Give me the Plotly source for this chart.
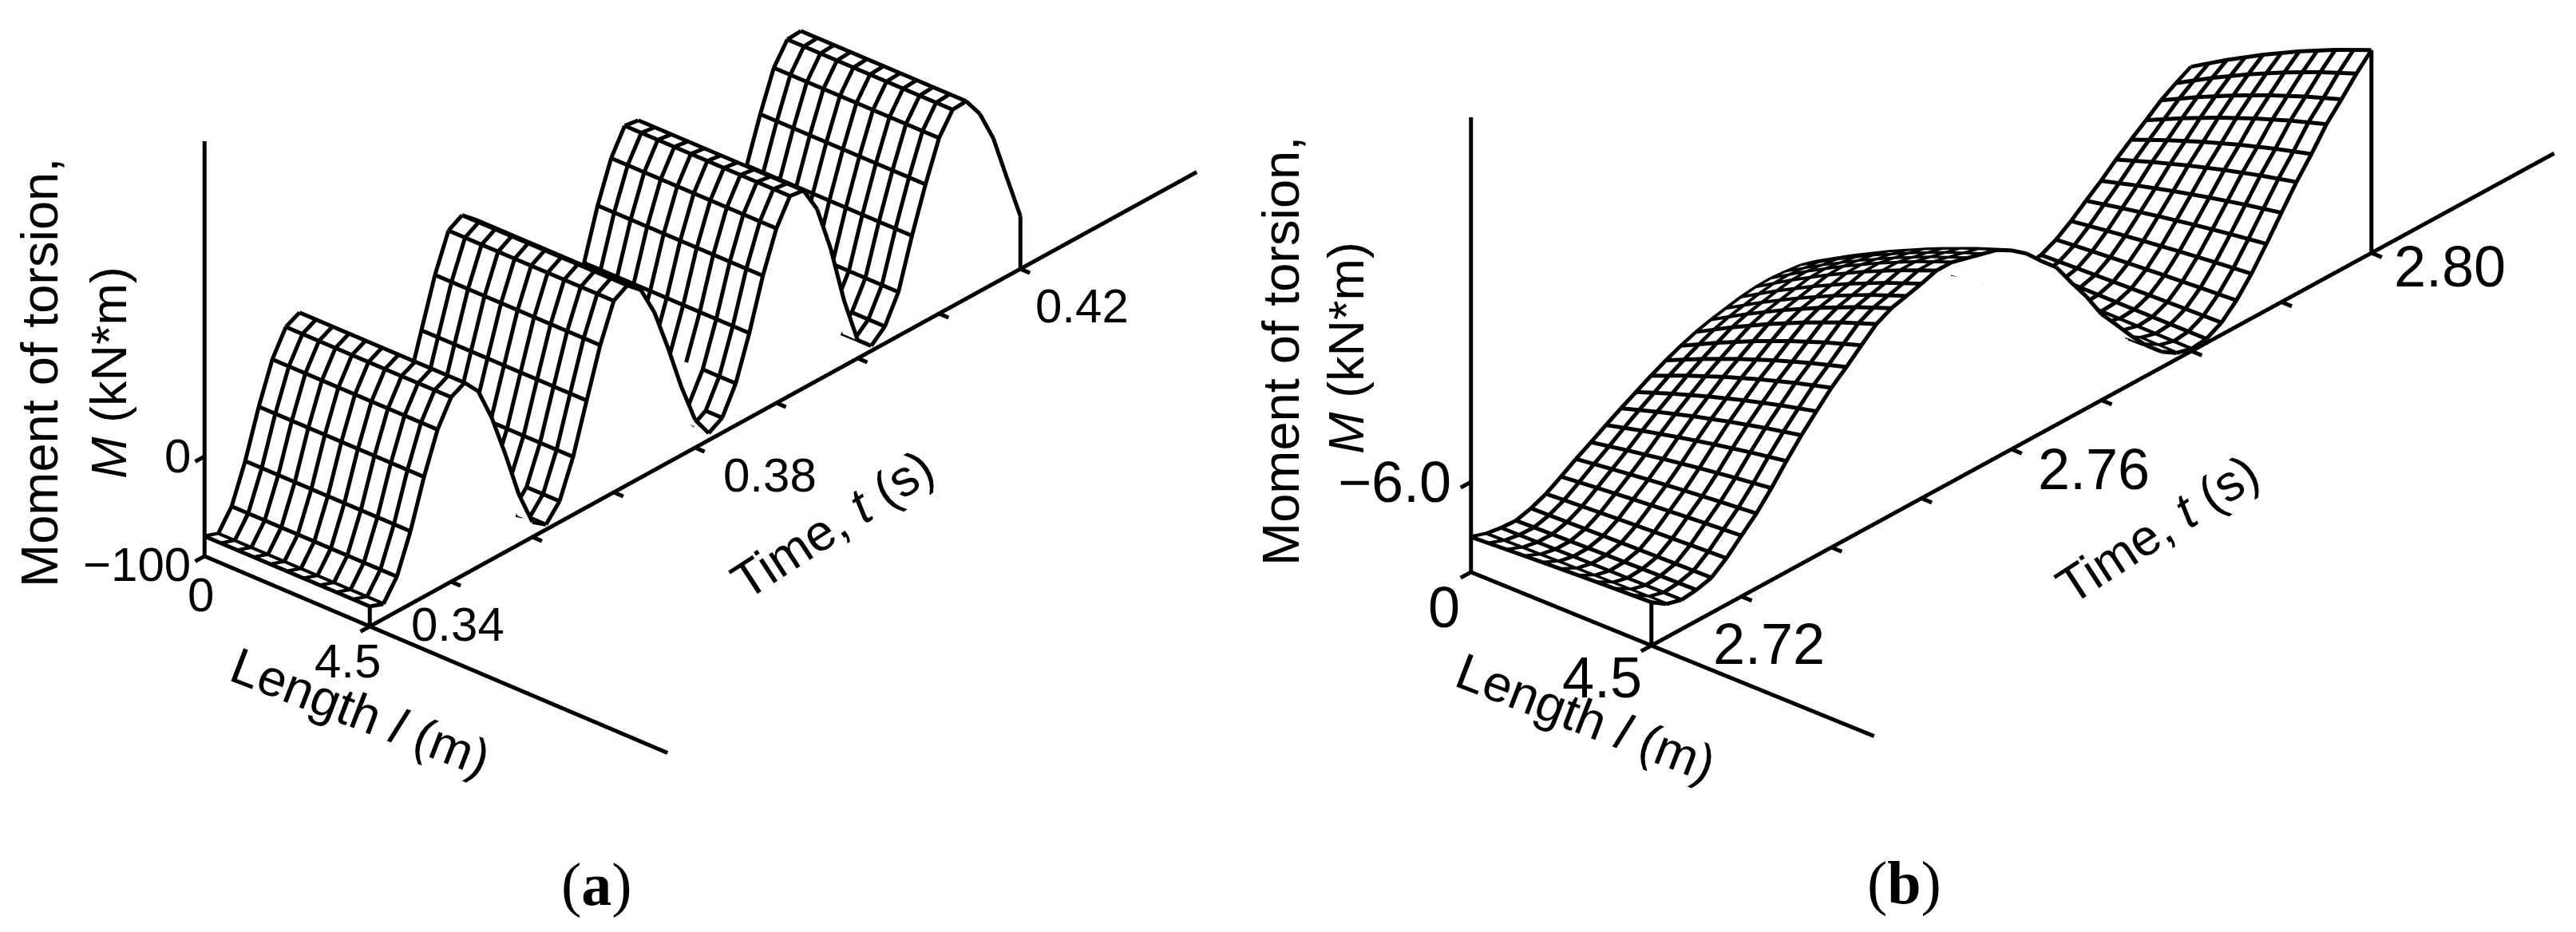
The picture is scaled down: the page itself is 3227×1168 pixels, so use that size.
import math
import numpy as np
import plotly.graph_objects as go

W, H = 3227, 1168

# ---------- data ----------
length_a = [0, 0.45, 0.9, 1.35, 1.8, 2.25, 2.7, 3.15, 3.6, 4.05, 4.5]
time_a = [0.34 + i / 600 for i in range(49)]
moment_a = [-80, -85, -65, -27, 20, 60, 85, 92, 76, 42, -2, -50, -85, -95, -79, -42, 7, 55, 92, 100,
            88, 58, 15, -32, -72, -93, -85, -58, -15, 35, 75, 100, 98, 72, 25, -35, -82, -95, -83, -56,
            -7, 37, 76, 97, 98, 78, 46, -1, -47]

length_b = [0, 0.45, 0.9, 1.35, 1.8, 2.25, 2.7, 3.15, 3.6, 4.05, 4.5]
time_b = [2.72 + i / 600 for i in range(49)]
moment_b_l0 = [-7.22, -7.33, -7.38, -7.40, -7.31, -7.17, -6.97, -6.76, -6.57, -6.37, -6.18, -6.00, -5.82,
               -5.66, -5.52, -5.40, -5.31, -5.24, -5.17, -5.13, -5.12, -5.15, -5.19, -5.29, -5.42, -5.54,
               -5.73, -5.96, -6.19, -6.44, -6.69, -6.94, -7.19, -7.42, -7.63, -7.81, -7.91, -7.91, -7.86,
               -7.70, -7.47, -7.20, -6.94, -6.65, -6.39, -6.14, -5.88, -5.68, -5.50]
moment_b_l45 = [-7.04, -7.26, -7.35, -7.31, -7.22, -6.97, -6.65, -6.34, -5.96, -5.54, -5.15, -4.80, -4.46,
                -4.18, -3.88, -3.59, -3.42, -3.33, -3.24, -3.13, -3.13, -3.22, -3.31, -3.40, -3.59, -3.84,
                -4.19, -4.51, -5.03, -5.52, -6.09, -6.51, -6.94, -7.33, -7.65, -7.86, -7.95, -7.91, -7.73,
                -7.42, -7.01, -6.53, -6.02, -5.52, -5.08, -4.60, -4.23, -3.84, -3.50]
share_b = [0, 0.12, 0.24, 0.35, 0.46, 0.56, 0.66, 0.75, 0.84, 0.92, 1]

time_ticks_a = [0.34, 0.35, 0.36, 0.37, 0.38, 0.39, 0.40, 0.41, 0.42]
time_ticks_b = [2.72, 2.73, 2.74, 2.75, 2.76, 2.77, 2.78, 2.79, 2.80]

moment_grid_a = [moment_a for _ in length_a]
moment_grid_b = [[p + w * (q - p) for p, q in zip(moment_b_l0, moment_b_l45)] for w in share_b]

K = 1752.0   # px per box unit at unit eye distance
DIST = 3.0
LINE = 10


def panel(name, domain, t, l, z, t_ticks, z_ticks, origin, corner, tip, z_px, z_base, z_top, l_tip):
    t0, t1 = t[0], t[-1]
    vt = (tip[0] - corner[0], corner[1] - tip[1])          # screen vector for the whole time span
    vl = (origin[0] - corner[0], corner[1] - origin[1])    # screen vector from l=4.5 to l=0
    s = math.sqrt((vt[1] / vt[0]) * (vl[1] / -vl[0]))
    theta = math.asin(s)
    phi_mag = math.atan((vl[1] / -vl[0]) / s)
    sp, cp = math.sin(phi_mag), math.cos(phi_mag)
    A, B = vt[0] / sp, -vl[0] / cp
    Zp = z_px / math.cos(theta)
    P = K / DIST

    pad_t = (t1 - t0) * 0.032
    t_lo = t0 - pad_t
    t_tip = t0 + (l_tip[0] - corner[0]) / vt[0] * (t1 - t0)
    l_end = 4.5 + (l_tip[1] - corner[0]) / (-vl[0]) * 4.5
    z_lo = z_base - 6 / z_px
    y_lo = -0.05

    ax = A * (t_tip - t_lo) / (t1 - t0) / P
    ay = B * (l_end - y_lo) / 4.5 / P
    az = Zp * (z_top - z_lo) / P

    right = np.array([sp, -cp, 0.0])
    up = np.array([s * cp, s * sp, math.cos(theta)])
    e = np.array([-math.cos(theta) * cp, -math.cos(theta) * sp, s])

    tm, lm, zm = (t_lo + t_tip) / 2, (y_lo + l_end) / 2, (z_lo + z_top) / 2
    ox = origin[0] + (tm - t0) / (t1 - t0) * vt[0] - lm / 4.5 * vl[0]
    oy = origin[1] - (tm - t0) / (t1 - t0) * vt[1] + lm / 4.5 * vl[1] - (zm - z_base) * z_px
    cx = (domain[0] + domain[1]) / 2 * W
    cy = H / 2
    c = (right * (cx - ox) + up * (oy - cy)) / P
    eye = c + DIST * e

    # Small shift toward the viewer so the mesh lines sit on the white surface
    eps = 5.0 / P
    sx = ax / (t_tip - t_lo)
    sy = ay / (l_end - y_lo)
    sz = az / (z_top - z_lo)
    dt = e[0] * eps / sx
    dl = -e[1] * eps / sy
    dz = e[2] * eps / sz

    nt, nl = len(t), len(l)

    def front(j, i):
        """True when the viewer sees the upper side of mesh cell (j, i)."""
        if j < 0 or i < 0 or j >= nl - 1 or i >= nt - 1:
            return False
        dzt = (z[j][i + 1] + z[j + 1][i + 1] - z[j][i] - z[j + 1][i]) / 2 / (t[i + 1] - t[i])
        dzl = (z[j + 1][i] + z[j + 1][i + 1] - z[j][i] - z[j][i + 1]) / 2 / (l[j + 1] - l[j])
        nx = -dzt * sz / sx
        ny = dzl * sz / sy
        return nx * e[0] + ny * e[1] + e[2] > 0

    def clear_of_fold(j, i):
        """Just past a fold, only the near rows clear the white underside."""
        row = min(j, nl - 2)
        if i >= 1 and not front(row, i - 1):
            return j >= nl - 2
        if i >= 2 and not front(row, i - 2):
            return j >= nl - 3
        return True

    gx, gy, gz = [], [], []

    def seg(i1, j1, i2, j2):
        gx.extend([t[i1] + dt, t[i2] + dt, None])
        gy.extend([l[j1] + dl, l[j2] + dl, None])
        gz.extend([z[j1][i1] + dz, z[j2][i2] + dz, None])

    for j in range(nl):
        for i in range(nt - 1):
            if j == nl - 1 or ((front(j - 1, i) or front(j, i)) and clear_of_fold(j, i)):
                seg(i, j, i + 1, j)
    for i in range(nt):
        for j in range(nl - 1):
            if i == 0:
                keep = front(j, i)
            elif i >= 2 and front(j, i - 1) and not front(j, i - 2):
                # first line past a fold: only its near end clears the underside
                keep = j == nl - 2
            elif i >= 3 and front(j, i - 1) and not front(j, i - 3):
                keep = j >= nl - 3
            else:
                keep = front(j, i - 1)
            if keep:
                seg(i, j, i, j + 1)

    ax_x = [t0, t0, None, t0, t0, None, t0, t_tip, None, t0, t0, None, t1, t1]
    ax_y = [0, 0, None, 0, l_end, None, 4.5, 4.5, None, 4.5, 4.5, None, 4.5, 4.5]
    ax_z = [z_base, z_top, None, z_base, z_base, None, z_base, z_base, None,
            z_base, z[-1][0], None, z_base, z[-1][-1]]

    tk = pad_t * 0.45
    tl = 0.26
    for tv in t_ticks:
        ax_x += [None, tv, tv]; ax_y += [None, 4.5, 4.5 + tl]; ax_z += [None, z_base, z_base]
    for zv in z_ticks:
        ax_x += [None, t0, t0 - tk]; ax_y += [None, 0, 0]; ax_z += [None, zv, zv]
    for lv in (0, 4.5):
        ax_x += [None, t0, t0 - tk]; ax_y += [None, lv, lv]; ax_z += [None, z_base, z_base]

    traces = [
        go.Surface(x=t, y=l, z=z, scene=name, showscale=False, hoverinfo="skip",
                   colorscale=[[0, "white"], [1, "white"]],
                   lighting=dict(ambient=1, diffuse=0, specular=0, fresnel=0, roughness=1)),
        go.Scatter3d(x=gx, y=gy, z=gz, mode="lines", scene=name, hoverinfo="skip", showlegend=False,
                     line=dict(color="black", width=LINE)),
        go.Scatter3d(x=ax_x, y=ax_y, z=ax_z, mode="lines", scene=name, hoverinfo="skip", showlegend=False,
                     line=dict(color="black", width=LINE)),
    ]
    hidden = dict(visible=False, showgrid=False, zeroline=False, showspikes=False)
    layout = dict(
        domain=dict(x=list(domain), y=[0, 1]),
        bgcolor="rgba(0,0,0,0)",
        aspectmode="manual",
        aspectratio=dict(x=ax, y=ay, z=az),
        xaxis=dict(range=[t_lo, t_tip], **hidden),
        yaxis=dict(range=[l_end, y_lo], **hidden),
        zaxis=dict(range=[z_lo, z_top], **hidden),
        camera=dict(projection=dict(type="orthographic"),
                    up=dict(x=0, y=0, z=1),
                    center=dict(x=c[0], y=c[1], z=c[2]),
                    eye=dict(x=eye[0], y=eye[1], z=eye[2])),
    )
    return traces, layout


tr_a, scene_a = panel("scene", (0, 0.5), time_a, length_a, moment_grid_a, time_ticks_a, [-100, 0],
                      origin=(248, 689), corner=(455, 777), tip=(1270, 329), z_px=1.25,
                      z_base=-100, z_top=316, l_tip=(1491, 828))
tr_b, scene_b = panel("scene2", (0.5, 1), time_b, length_b, moment_grid_b, time_ticks_b, [-8, -6],
                      origin=(1834, 709), corner=(2060, 801), tip=(2962, 309), z_px=56.5,
                      z_base=-8, z_top=2.09, l_tip=(3191, 2339))

fig = go.Figure(tr_a + tr_b)


def note(text, x, y, size, angle=0, family="Liberation Sans"):
    return dict(text=text, x=x / W, y=1 - y / H, xref="paper", yref="paper", showarrow=False,
                xanchor="center", yanchor="middle", textangle=angle,
                font=dict(family=family, size=size, color="black"))


def tick(text, x, y, size):
    return note(text, x - 5, y - 0.12 * size, size)


ann = [
    note("Moment of torsion,", 42, 459, 65, -90),
    note("<i>M</i> (kN*m)", 128, 459, 63, -90),
    note("Time, <i>t</i> (s)", 1035, 649, 64, -33),
    note("Length <i>l</i> (m)", 443, 884, 64, 21),
    tick("0", 219, 571, 60), tick("−100", 168, 707, 60), tick("0", 249, 745, 60), tick("4.5", 432, 828, 60),
    tick("0.34", 570, 782, 60), tick("0.38", 961, 595, 60), tick("0.42", 1352, 383, 60),
    note("Moment of torsion,", 1597, 432, 65, -90),
    note("<i>M</i> (kN*m)", 1678, 428, 63, -90),
    note("Time, <i>t</i> (s)", 2695, 655, 64, -33),
    note("Length <i>l</i> (m)", 1978, 891, 64, 21),
    tick("−6.0", 1744, 605, 72), tick("0", 1806, 762, 72), tick("4.5", 2004, 850, 72),
    tick("2.72", 2213, 808, 72), tick("2.76", 2620, 589, 72), tick("2.80", 3066, 335, 72),
    note("(<b>a</b>)", 739, 1100, 76, family="Liberation Serif"),
    note("(<b>b</b>)", 2377, 1098, 76, family="Liberation Serif"),
]

fig.update_layout(width=W, height=H, margin=dict(l=0, r=0, t=0, b=0), paper_bgcolor="white",
                  showlegend=False, scene=scene_a, scene2=scene_b, annotations=ann)
fig.write_html("out.html")
